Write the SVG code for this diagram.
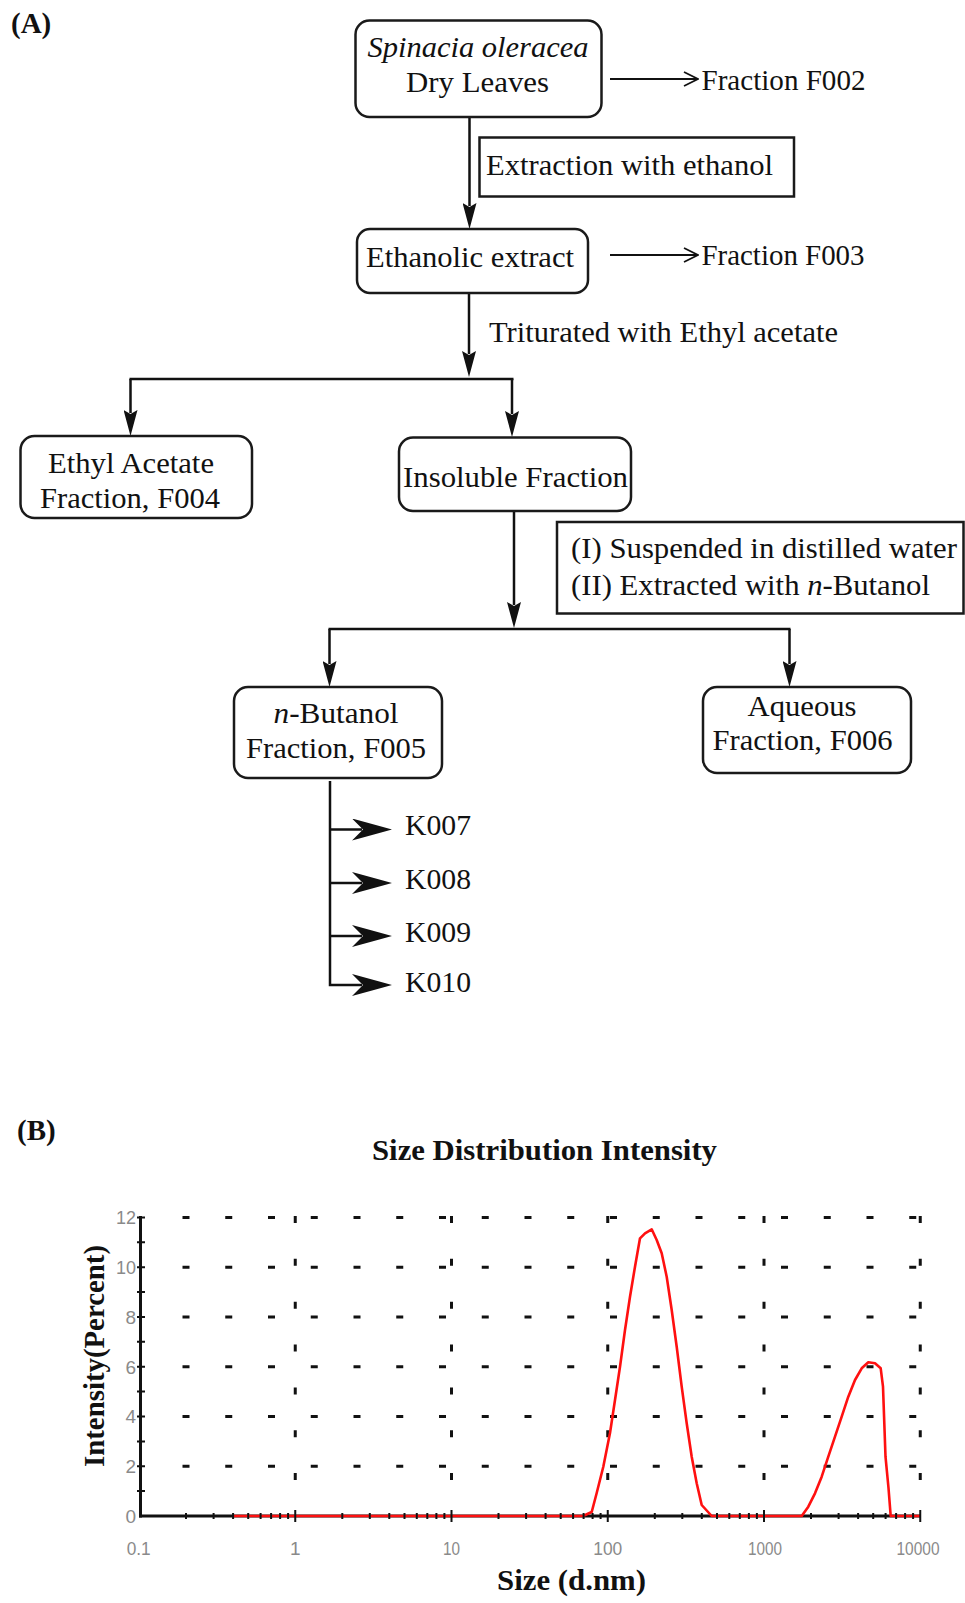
<svg xmlns="http://www.w3.org/2000/svg" width="965" height="1603" viewBox="0 0 965 1603">
<style>
  .t { font-family: "Liberation Serif", "Times New Roman", serif; font-size: 29px; fill: #111; }
  .c { text-anchor: middle; }
  .b { font-weight: bold; }
  .box { fill: #fff; stroke: #1a1a1a; stroke-width: 2.5; }
  .ln { fill: none; stroke: #111; stroke-width: 2.5; }
  .thin { fill: none; stroke: #111; stroke-width: 1.8; }
  .grid { fill: none; stroke: #111; stroke-width: 3; }
  .tick { fill: none; stroke: #111; stroke-width: 2; }
  .ax { fill: none; stroke: #111; stroke-width: 3; }
  .lab { font-family: "Liberation Sans", Arial, sans-serif; font-size: 19px; fill: #8a8a8a; }
</style>
<defs>
  <marker id="tri" viewBox="0 0 26 14" refX="3" refY="7" markerWidth="26" markerHeight="14" markerUnits="userSpaceOnUse" orient="auto">
    <path d="M0,0 L26,7 L0,14 L4,7 Z" fill="#111"/>
  </marker>
  <marker id="big" viewBox="0 0 40 22" refX="10" refY="11" markerWidth="40" markerHeight="22" markerUnits="userSpaceOnUse" orient="auto">
    <path d="M0,0 Q22,6 40,11 Q22,16 0,22 L11,11 Z" fill="#111"/>
  </marker>
  <marker id="open" viewBox="0 0 16 16" refX="15" refY="8" markerWidth="16" markerHeight="16" markerUnits="userSpaceOnUse" orient="auto">
    <path d="M1,1 L15,8 L1,15" fill="none" stroke="#111" stroke-width="1.8"/>
  </marker>
</defs>
<rect width="965" height="1603" fill="#fff"/>

<text class="t b" x="11" y="33">(A)</text>

<g id="connectors">
  <line class="ln" x1="469.5" y1="117" x2="469.5" y2="206" marker-end="url(#tri)"/>
  <line class="thin" x1="610" y1="79" x2="698" y2="79" marker-end="url(#open)"/>
  <line class="thin" x1="610" y1="255" x2="698" y2="255" marker-end="url(#open)"/>
  <line class="ln" x1="469" y1="293" x2="469" y2="354" marker-end="url(#tri)"/>
  <line class="ln" x1="129.5" y1="379" x2="513.5" y2="379"/>
  <line class="ln" x1="130.5" y1="379" x2="130.5" y2="413" marker-end="url(#tri)"/>
  <line class="ln" x1="512" y1="379" x2="512" y2="414" marker-end="url(#tri)"/>
  <line class="ln" x1="514" y1="511" x2="514" y2="605" marker-end="url(#tri)"/>
  <line class="ln" x1="328.5" y1="629" x2="790.5" y2="629"/>
  <line class="ln" x1="329.5" y1="629" x2="329.5" y2="664" marker-end="url(#tri)"/>
  <line class="ln" x1="789.5" y1="629" x2="789.5" y2="664" marker-end="url(#tri)"/>
  <path class="ln" d="M330,781 V985 H362" marker-end="url(#big)"/>
  <line class="ln" x1="330" y1="829.5" x2="362" y2="829.5" marker-end="url(#big)"/>
  <line class="ln" x1="330" y1="883" x2="362" y2="883" marker-end="url(#big)"/>
  <line class="ln" x1="330" y1="936" x2="362" y2="936" marker-end="url(#big)"/>
</g>

<g id="n1">
  <rect class="box" x="355.5" y="20.5" width="246" height="96.5" rx="14"/>
  <text class="t c" x="478" y="57" font-style="italic" textLength="221" lengthAdjust="spacingAndGlyphs">Spinacia oleracea</text>
  <text class="t c" x="477.5" y="92" textLength="143" lengthAdjust="spacingAndGlyphs">Dry Leaves</text>
</g>
<g id="f002">
  <text class="t" x="701.5" y="90" textLength="164" lengthAdjust="spacingAndGlyphs">Fraction F002</text>
</g>
<g id="step1">
  <rect class="box" x="479.5" y="137.5" width="314.5" height="59"/>
  <text class="t" x="486" y="175" textLength="287" lengthAdjust="spacingAndGlyphs">Extraction with ethanol</text>
</g>
<g id="n2">
  <rect class="box" x="357" y="229" width="231" height="64" rx="13"/>
  <text class="t c" x="470" y="267" textLength="208" lengthAdjust="spacingAndGlyphs">Ethanolic extract</text>
</g>
<g id="f003">
  <text class="t" x="701.5" y="264.5" textLength="163" lengthAdjust="spacingAndGlyphs">Fraction F003</text>
</g>
<g id="step2">
  <text class="t" x="489" y="342" textLength="349" lengthAdjust="spacingAndGlyphs">Triturated with Ethyl acetate</text>
</g>
<g id="n3">
  <rect class="box" x="20.5" y="436" width="231.5" height="82" rx="14"/>
  <text class="t c" x="131" y="473" textLength="166" lengthAdjust="spacingAndGlyphs">Ethyl Acetate</text>
  <text class="t c" x="130" y="508" textLength="180" lengthAdjust="spacingAndGlyphs">Fraction, F004</text>
</g>
<g id="n4">
  <rect class="box" x="399" y="437.5" width="232" height="73.5" rx="14"/>
  <text class="t c" x="515.5" y="487" textLength="225" lengthAdjust="spacingAndGlyphs">Insoluble Fraction</text>
</g>
<g id="step3">
  <rect class="box" x="557" y="522" width="406.5" height="91.5"/>
  <text class="t" x="571" y="558" textLength="386" lengthAdjust="spacingAndGlyphs">(I) Suspended in distilled water</text>
  <text class="t" x="571" y="595" textLength="359" lengthAdjust="spacingAndGlyphs">(II) Extracted with <tspan font-style="italic">n</tspan>-Butanol</text>
</g>
<g id="n5">
  <rect class="box" x="234" y="687" width="208" height="91" rx="14"/>
  <text class="t c" x="336" y="723" textLength="125" lengthAdjust="spacingAndGlyphs"><tspan font-style="italic">n</tspan>-Butanol</text>
  <text class="t c" x="336" y="758" textLength="180" lengthAdjust="spacingAndGlyphs">Fraction, F005</text>
</g>
<g id="n6">
  <rect class="box" x="703" y="687" width="208" height="86" rx="14"/>
  <text class="t c" x="802" y="715.5" textLength="109" lengthAdjust="spacingAndGlyphs">Aqueous</text>
  <text class="t c" x="802.5" y="750" textLength="180" lengthAdjust="spacingAndGlyphs">Fraction, F006</text>
</g>
<g id="k007"><text class="t" x="405" y="835" textLength="66" lengthAdjust="spacingAndGlyphs">K007</text></g>
<g id="k008"><text class="t" x="405" y="888.5" textLength="66" lengthAdjust="spacingAndGlyphs">K008</text></g>
<g id="k009"><text class="t" x="405" y="942" textLength="66" lengthAdjust="spacingAndGlyphs">K009</text></g>
<g id="k010"><text class="t" x="405" y="992" textLength="66" lengthAdjust="spacingAndGlyphs">K010</text></g>

<!-- Panel B -->
<text class="t b" x="17" y="1140">(B)</text>
<text class="t b c" x="544.5" y="1160" textLength="345" lengthAdjust="spacingAndGlyphs">Size Distribution Intensity</text>

<g id="grid">
  <g stroke-dasharray="7 35.75">
    <line class="grid" x1="182.5" y1="1466.2" x2="920" y2="1466.2"/>
    <line class="grid" x1="182.5" y1="1416.5" x2="920" y2="1416.5"/>
    <line class="grid" x1="182.5" y1="1366.7" x2="920" y2="1366.7"/>
    <line class="grid" x1="182.5" y1="1317" x2="920" y2="1317"/>
    <line class="grid" x1="182.5" y1="1267.2" x2="920" y2="1267.2"/>
    <line class="grid" x1="182.5" y1="1217.4" x2="920" y2="1217.4"/>
  </g>
  <g stroke-dasharray="7 35.85">
    <line class="grid" x1="295.25" y1="1216" x2="295.25" y2="1500"/>
    <line class="grid" x1="451.5" y1="1216" x2="451.5" y2="1500"/>
    <line class="grid" x1="607.75" y1="1216" x2="607.75" y2="1500"/>
    <line class="grid" x1="764" y1="1216" x2="764" y2="1500"/>
    <line class="grid" x1="920.25" y1="1216" x2="920.25" y2="1500"/>
  </g>
</g>

<g id="axes">
  <line class="ax" x1="140.5" y1="1216" x2="140.5" y2="1517.5"/>
  <line class="ax" x1="139" y1="1516" x2="921" y2="1516"/>
</g>

<g id="curve">
  <path d="M233,1516 L583,1516 L591.7,1512 L596.7,1493 L603.3,1466.7 L610,1433 L615,1400 L620,1366.7 L625,1330 L630,1296.7 L635,1266.7 L640,1238.3 L645,1233.3 L651.7,1229.3 L656.7,1240 L661.7,1253.3 L666.7,1276.7 L671.7,1310 L676.7,1346.7 L681.7,1386.7 L686.7,1423.3 L691.7,1456.7 L696.7,1483.3 L701.7,1505 L711.7,1516 L801.7,1516 L808.3,1506.7 L815,1493.3 L821.7,1476.7 L828.3,1456.7 L835,1436.7 L841.7,1416.7 L848.3,1396.7 L855,1380 L861.7,1368.3 L868.3,1362.3 L875,1363.3 L880.7,1368.3 L883,1386.7 L885.5,1456.7 L888.5,1488 L890.7,1516 L921,1516" fill="none" stroke="#ff1010" stroke-width="2.6" stroke-linejoin="round"/>
</g>

<g id="ticks">
  <path class="tick" d="M137,1491.1 h8 M137,1466.2 h8 M137,1441.4 h8 M137,1416.5 h8 M137,1391.6 h8 M137,1366.7 h8 M137,1341.8 h8 M137,1317 h8 M137,1292.1 h8 M137,1267.2 h8 M137,1242.3 h8 M137,1217.4 h8"/>
  <path class="tick" d="M295.25,1510 v12 M451.5,1510 v12 M607.75,1510 v12 M764,1510 v12 M920.25,1510 v12"/>
  <path class="tick" d="M186,1513 v6 M213.6,1513 v6 M233.1,1513 v6 M248.2,1513 v6 M260.6,1513 v6 M271.1,1513 v6 M280.1,1513 v6 M288.1,1513 v6
    M342.3,1513 v6 M369.8,1513 v6 M389.3,1513 v6 M404.5,1513 v6 M416.8,1513 v6 M427.3,1513 v6 M436.4,1513 v6 M444.4,1513 v6
    M498.5,1513 v6 M526.1,1513 v6 M545.6,1513 v6 M560.7,1513 v6 M573.1,1513 v6 M583.6,1513 v6 M592.6,1513 v6 M600.6,1513 v6
    M654.8,1513 v6 M682.3,1513 v6 M701.8,1513 v6 M717,1513 v6 M729.3,1513 v6 M739.8,1513 v6 M748.9,1513 v6 M756.9,1513 v6
    M811,1513 v6 M838.6,1513 v6 M858.1,1513 v6 M873.2,1513 v6 M885.6,1513 v6 M896.1,1513 v6 M905.1,1513 v6 M913.1,1513 v6"/>
</g>

<g id="ylabels" text-anchor="end">
  <text class="lab" x="136" y="1523">0</text>
  <text class="lab" x="136" y="1473">2</text>
  <text class="lab" x="136" y="1423.3">4</text>
  <text class="lab" x="136" y="1373.5">6</text>
  <text class="lab" x="136" y="1323.8">8</text>
  <text class="lab" x="136" y="1274" textLength="20" lengthAdjust="spacingAndGlyphs">10</text>
  <text class="lab" x="136" y="1224.2" textLength="20" lengthAdjust="spacingAndGlyphs">12</text>
</g>
<g id="xlabels" text-anchor="middle">
  <text class="lab" x="138.7" y="1555" textLength="24" lengthAdjust="spacingAndGlyphs">0.1</text>
  <text class="lab" x="295.25" y="1555">1</text>
  <text class="lab" x="451.5" y="1555" textLength="17" lengthAdjust="spacingAndGlyphs">10</text>
  <text class="lab" x="607.75" y="1555" textLength="29" lengthAdjust="spacingAndGlyphs">100</text>
  <text class="lab" x="765" y="1555" textLength="34" lengthAdjust="spacingAndGlyphs">1000</text>
  <text class="lab" x="918" y="1555" textLength="43" lengthAdjust="spacingAndGlyphs">10000</text>
</g>

<text class="t b c" transform="translate(104,1356) rotate(-90)" textLength="222" lengthAdjust="spacingAndGlyphs">Intensity(Percent)</text>
<text class="t b c" x="571.5" y="1590" textLength="149" lengthAdjust="spacingAndGlyphs">Size (d.nm)</text>
</svg>
